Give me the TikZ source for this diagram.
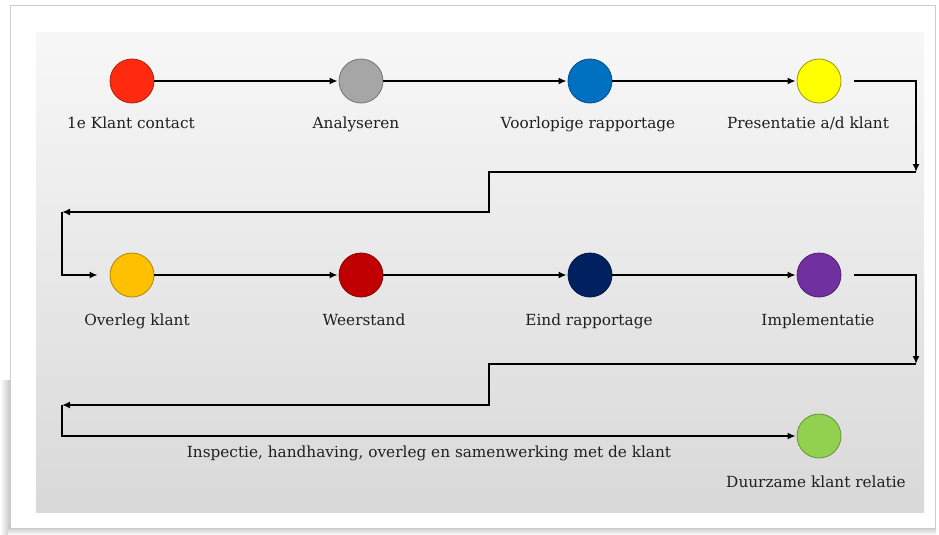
\documentclass[tikz,border=0pt]{standalone}
\usepackage{fontspec}
\setmainfont{DejaVu Serif}
\usetikzlibrary{arrows.meta}
\definecolor{cRed}{HTML}{FF2A10}
\definecolor{cGray}{HTML}{A6A6A6}
\definecolor{cBlue}{HTML}{0070C0}
\definecolor{cYellow}{HTML}{FFFF00}
\definecolor{cOrange}{HTML}{FFC000}
\definecolor{cDarkRed}{HTML}{C00000}
\definecolor{cNavy}{HTML}{002060}
\definecolor{cPurple}{HTML}{7030A0}
\definecolor{cGreen}{HTML}{92D050}
\begin{document}
\begin{tikzpicture}[x=1pt,y=-1pt,
  dot/.style={circle,minimum size=44pt,inner sep=0pt,line width=0.8pt,fill=#1,draw=#1!70!black},
  lbl/.style={font=\fontsize{15.3}{17}\selectfont,inner sep=0pt,anchor=base,text=black!88},
  flow/.style={line width=2.5pt,-{Latex[length=8pt,width=7pt]}},
]
\useasboundingbox (0,0) rectangle (939,535);
\fill[white] (0,0) rectangle (939,535);
% card shadow
\shade[left color=white,right color=black!25] (0,380) rectangle (11,535);
\shade[top color=black!22,bottom color=white] (8,527) rectangle (936,535);
% card
\draw[black!20,fill=white,line width=1pt] (10,6) rectangle (935,528);
% panel
\shade[top color=black!3,bottom color=black!15] (36,33) rectangle (924,512);

% nodes row 1
\node[dot=cRed]    (c1) at (132,81) {};
\node[dot=cGray]   (c2) at (361,81) {};
\node[dot=cBlue]   (c3) at (590,81) {};
\node[dot=cYellow,draw=cYellow!60!black] (c4) at (819,81) {};
% row 2
\node[dot=cOrange] (c5) at (132,275) {};
\node[dot=cDarkRed](c6) at (361,275) {};
\node[dot=cNavy]   (c7) at (590,275) {};
\node[dot=cPurple] (c8) at (819,275) {};
% row 3
\node[dot=cGreen]  (c9) at (819,436) {};

% labels
\node[lbl] (l1) at (131,128) {1e Klant contact};
\node[lbl] (l2) at (356,128) {Analyseren};
\node[lbl] (l3) at (588,128) {Voorlopige rapportage};
\node[lbl] (l4) at (808,128) {Presentatie a/d klant};
\node[lbl] (l5) at (137,325) {Overleg klant};
\node[lbl] (l6) at (364,325) {Weerstand};
\node[lbl] (l7) at (589,325) {Eind rapportage};
\node[lbl] (l8) at (818,325) {Implementatie};
\node[lbl] (l9) at (429,457) {Inspectie, handhaving, overleg en samenwerking met de klant};
\node[lbl] (l10) at (816,487) {Duurzame klant relatie};

% corner coordinates
\coordinate (a1) at (916,81);
\coordinate (a2) at (916,172);
\coordinate (a3) at (489,172);
\coordinate (a4) at (489,212);
\coordinate (a5) at (62,212);
\coordinate (a6) at (62,275);
\coordinate (b1) at (916,275);
\coordinate (b2) at (916,364);
\coordinate (b3) at (489,364);
\coordinate (b4) at (489,405);
\coordinate (b5) at (62,405);
\coordinate (b6) at (62,436);

% connectors row 1
\draw[flow,shorten >=1pt] (c1) -- (c2);
\draw[flow,shorten >=1pt] (c2) -- (c3);
\draw[flow,shorten >=1pt] (c3) -- (c4);
\draw[flow,shorten <=13pt] (c4) -- (a1) -- (a2);
\draw[flow] (a2) -- (a3) -- (a4) -- (a5);
\draw[flow,shorten >=12pt] (a5) -- (a6) -- (c5);
% row 2
\draw[flow,shorten >=1pt] (c5) -- (c6);
\draw[flow,shorten >=1pt] (c6) -- (c7);
\draw[flow,shorten >=1pt] (c7) -- (c8);
\draw[flow,shorten <=13pt] (c8) -- (b1) -- (b2);
\draw[flow] (b2) -- (b3) -- (b4) -- (b5);
\draw[flow,shorten >=1pt] (b5) -- (b6) -- (c9);
\end{tikzpicture}
\end{document}
